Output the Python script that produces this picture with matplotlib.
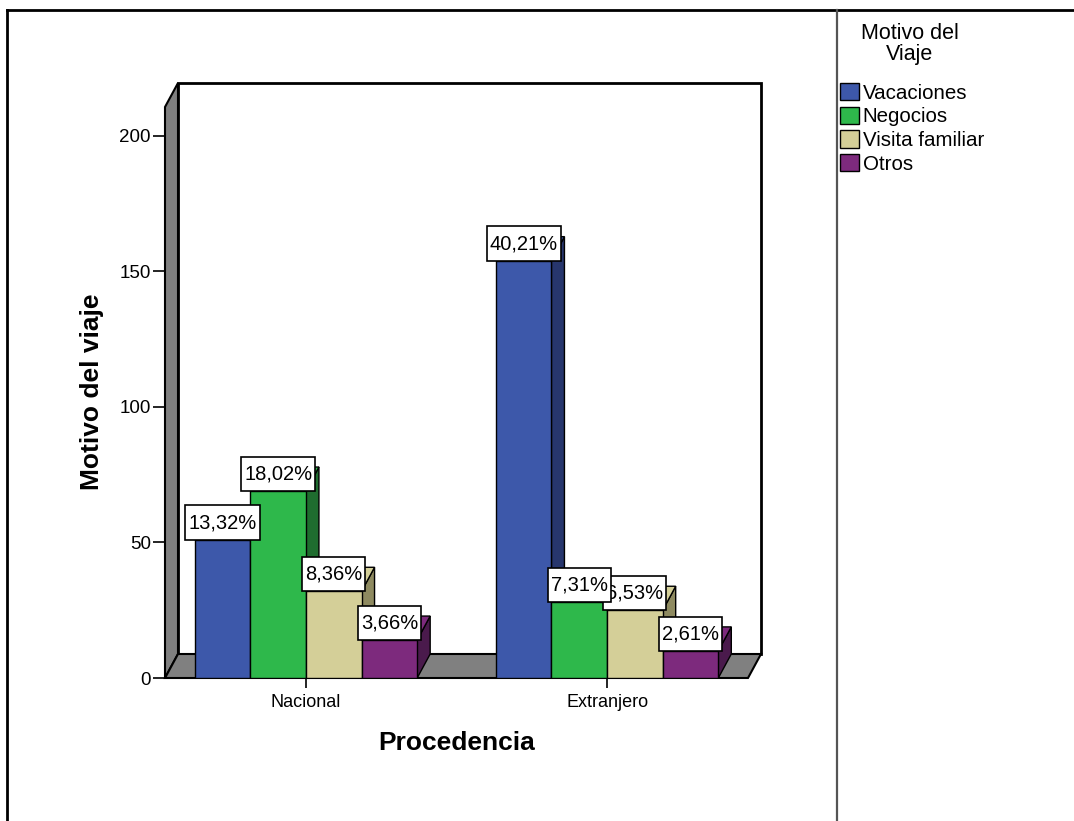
import matplotlib
matplotlib.use("Agg")
import matplotlib.pyplot as plt
from matplotlib.patches import Polygon, Rectangle
from matplotlib.lines import Line2D
from matplotlib.path import Path

plt.rcParams['font.family'] = ['Liberation Sans', 'DejaVu Sans']

# Frecuencias de motivo de viaje por procedencia
procedencia = ['Nacional', 'Extranjero']
motivos = ['Vacaciones', 'Negocios', 'Visita familiar', 'Otros']
nacional = [51, 69, 32, 14]
extranjero = [154, 28, 25, 10]
yticks = [0, 50, 100, 150, 200]

colores = ['#3d58aa', '#2eb84b', '#d4cf98', '#7d2a7d']
lados = ['#27366d', '#1f6d2f', '#8e8a60', '#4a1a4c']
gris = '#808080'

PAD_X, PAD_Y = 0.15, 0.38


def caja(x0, y0, width, height, mutation_size):
    # rectangulo con mas margen vertical que horizontal
    px, py = PAD_X * mutation_size, PAD_Y * mutation_size
    x0, y0 = x0 - px, y0 - py
    x1, y1 = x0 + width + 2 * px, y0 + height + 2 * py
    return Path([(x0, y0), (x1, y0), (x1, y1), (x0, y1), (x0, y0)],
                closed=True)


W, H = 1074, 821
fig = plt.figure(figsize=(W / 100, H / 100), dpi=100)
ax = fig.add_axes([165 / W, 1 - 678 / H, 583 / W, 571 / H])
ax.set_xlim(-0.468, 1.468)
ax.set_ylim(0, 210.7)
ax.set_facecolor('none')
for s in ax.spines.values():
    s.set_visible(False)

# profundidad del efecto 3D en pixeles
DX, DY = 13, 24
ax_w, ax_h = 583, 571
fx, fy = DX / ax_w, DY / ax_h
x0, x1 = ax.get_xlim()
y0, y1 = ax.get_ylim()
ddx = DX * (x1 - x0) / ax_w
ddy = DY * (y1 - y0) / ax_h

# pared del fondo, pared izquierda y suelo
ax.add_patch(Rectangle((fx, fy), 1, 1, transform=ax.transAxes, fc='white',
                       ec='black', lw=2, zorder=0.5, clip_on=False))
ax.add_patch(Polygon([(0, 0), (0, 1), (fx, 1 + fy), (fx, fy)], closed=True,
                     transform=ax.transAxes, fc=gris, ec='black', lw=1.5,
                     zorder=1, clip_on=False))
ax.add_patch(Polygon([(0, 0), (1, 0), (1 + fx, fy), (fx, fy)], closed=True,
                     transform=ax.transAxes, fc=gris, ec='black', lw=1.5,
                     zorder=1, clip_on=False))

bw = 0.1847
fs_etiqueta = 14.5
total = sum(nacional) + sum(extranjero)
pos = [0, 1]
handles = []
for j, motivo in enumerate(motivos):
    vals = [nacional[j], extranjero[j]]
    xs = [p + (j - 1.5) * bw for p in pos]
    b = ax.bar(xs, vals, bw, color=colores[j], edgecolor='black', lw=1,
               zorder=3 + j, label=motivo)
    handles.append(b)
    for x, v in zip(xs, vals):
        xl, xr = x - bw / 2, x + bw / 2
        lado = [(xr, 0), (xr, v), (xr + ddx, v + ddy), (xr + ddx, ddy)]
        tapa = [(xl, v), (xr, v), (xr + ddx, v + ddy), (xl + ddx, v + ddy)]
        ax.add_patch(Polygon(lado, closed=True, fc=lados[j], ec='black',
                             lw=1, zorder=2.5 + j, clip_on=False))
        ax.add_patch(Polygon(tapa, closed=True, fc=colores[j], ec='black',
                             lw=1, zorder=2.5 + j, clip_on=False))
        pct = v / total * 100
        ax.annotate(f'{pct:.2f}%'.replace('.', ','), (x, v),
                    xytext=(0, PAD_Y * fs_etiqueta), textcoords='offset points',
                    ha='center', va='bottom', fontsize=fs_etiqueta,
                    bbox=dict(boxstyle=caja, fc='white', ec='black', lw=1.2),
                    zorder=10 - j * 0.1, annotation_clip=False)

ax.set_yticks(yticks)
ax.set_xticks(pos, procedencia)
ax.tick_params(axis='y', length=8.6, width=1.2, pad=1.5, labelsize=13.5)
ax.tick_params(axis='x', length=7.5, width=1.2, pad=4, labelsize=13)

ax.set_ylabel('Motivo del viaje', fontsize=19, fontweight='bold')
ax.yaxis.set_label_coords((92 - 165) / ax_w, (678 - 392) / ax_h)
ax.yaxis.label.set_va('center')
ax.set_xlabel('Procedencia', fontsize=19, fontweight='bold')
ax.xaxis.set_label_coords((457 - 165) / ax_w, (678 - 743) / ax_h)
ax.xaxis.label.set_va('center')

# leyenda
fig.text(910 / W, 1 - 44 / H, 'Motivo del\nViaje', ha='center', va='center',
         fontsize=15.5, linespacing=1.05)
fig.legend(handles, motivos, loc='upper left',
           bbox_to_anchor=(840 / W, 1 - 83 / H), frameon=False, fontsize=14.8,
           handlelength=0.9, handleheight=0.9, handletextpad=0.2,
           labelspacing=0.2, borderpad=0, borderaxespad=0)

# marco exterior y separador de la leyenda
fig.add_artist(Line2D([7 / W, 7 / W], [0, 1 - 10 / H], transform=fig.transFigure,
                      color='black', lw=2))
fig.add_artist(Line2D([7 / W, 1], [1 - 10 / H, 1 - 10 / H],
                      transform=fig.transFigure, color='black', lw=2))
fig.add_artist(Line2D([837 / W, 837 / W], [0, 1 - 10 / H],
                      transform=fig.transFigure, color='#555555', lw=1.6))

fig.savefig('out.png', dpi=100)
